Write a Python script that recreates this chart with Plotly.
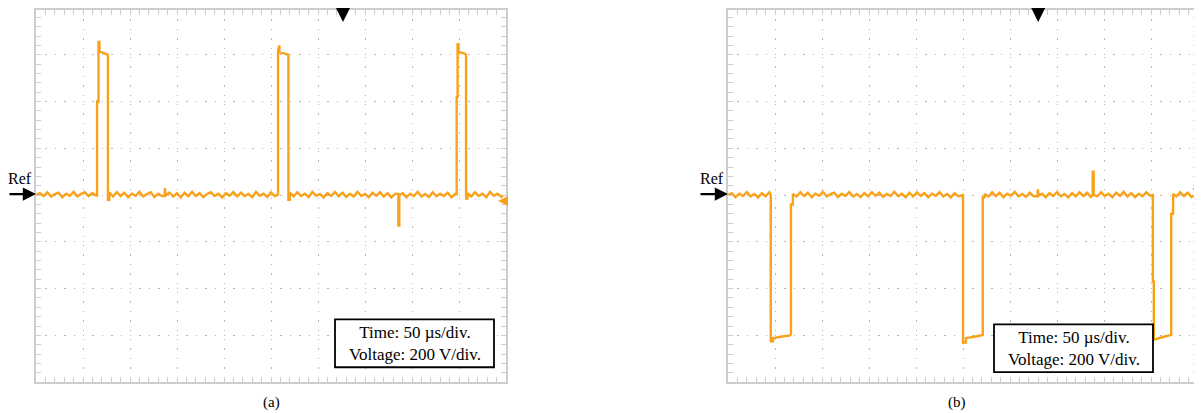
import plotly.graph_objects as go

# page body has an 8px margin: the figure is sized to fit the 1202x413 window
OFF = 8
W, H = 1202 - OFF, 413 - OFF

# ---------------- data (time in µs, voltage in V) ----------------
t_a = [0, 4, 8, 12, 16, 20, 24, 28, 32, 36, 40, 44, 48, 52, 56, 60, 64,
       65, 65, 66.5, 66.5, 67.5, 67.5, 72, 76, 76.5, 76.5, 78, 78,
       82, 86, 90, 94, 98, 102, 106, 110, 114, 118, 122, 126, 130, 134, 137, 137, 138,
       142, 146, 150, 154, 158, 162, 166, 170, 174, 178, 182, 186, 190, 194, 198,
       202, 206, 210, 214, 218, 222, 226, 230, 234, 238, 242, 246, 250, 254, 257,
       257.5, 257.5, 259, 259, 266, 268, 268.5, 268.5, 270, 270,
       274, 278, 282, 286, 290, 294, 298, 302, 306, 310, 314, 318, 322, 326, 330,
       334, 338, 342, 346, 350, 354, 358, 362, 366, 370, 374, 378, 382, 385.5, 385.5, 386.5, 386.5,
       390, 394, 398, 402, 406, 410, 414, 418, 422, 426, 430, 434, 438, 442, 446, 447.5,
       447.5, 448.5, 448.5, 449.5, 449.5, 456, 457.5, 457.5, 459, 459,
       463, 467, 471, 475, 479, 483, 487, 491, 495, 497]
v_a = [0, 8, -4, 12, -6, 4, 10, -9, 6, -3, 14, -6, 5, 12, -4, 9, -2,
       -2, 400, 400, 655, 655, 615, 608, 600, 600, -20, -20, 12,
       -6, 13, -4, 10, -9, 6, -3, 14, -6, 4, 12, -8, 6, -4, -4, 30, -2,
       11, -6, 8, -10, 10, -5, 14, -4, 8, -9, 5, 12, -4, 6, -10,
       8, -3, 13, -6, 10, -4, 5, -9, 14, -3, 6, -8, 12, -4, 2,
       2, 620, 640, 612, 605, 600, 600, -20, -20, 10,
       -5, 12, -4, 6, -9, 14, -3, 5, -10, 8, -4, 13, -5, 10, -8,
       6, -6, 14, -4, 5, -9, 10, -3, 12, -6, 8, -10, 5, 5, -130, -130, 0,
       8, -9, 6, -4, 14, -6, 5, -8, 12, -5, 6, -4, 10, -9, 5, 0,
       420, 420, 645, 645, 612, 605, 600, -15, -15, 8,
       -6, 12, -4, 6, -9, 14, -3, 6, -8, 0]

t_b = [0, 4, 8, 12, 16, 20, 24, 28, 32, 36, 40, 44, 45.5,
       45.5, 48, 48, 56, 66, 67, 67, 69, 69,
       73, 77, 81, 85, 89, 93, 97, 101, 105, 109, 113, 117, 121, 125, 129, 133, 137,
       141, 145, 149, 153, 157, 161, 165, 169, 173, 177, 181, 185, 189, 193, 197,
       201, 205, 209, 213, 217, 221, 225, 229, 233, 237, 241, 245, 250,
       250, 253, 253, 262, 270, 271, 271, 273, 273,
       277, 281, 285, 289, 293, 297, 301, 305, 309, 313, 317, 321, 325, 329.5, 329.5, 330.5,
       334, 338, 342, 346, 350, 354, 358, 362, 366, 370, 374, 378, 382, 386, 388, 388, 389, 389,
       393, 397, 401, 405, 409, 413, 417, 421, 425, 429, 433, 437, 441, 445, 449, 452,
       452, 453, 453, 462, 470, 471.5, 471.5, 473.5, 473.5,
       477, 481, 485, 489, 493, 497]
v_b = [0, 8, -9, 6, -4, 13, -6, 5, -10, 8, -5, 12, 0,
       -625, -625, -612, -606, -600, -595, -40, -40, 5,
       -6, 12, -4, 10, -9, 6, -3, 14, -6, 4, 10, -8, 6, -4, 13, -6, 5,
       -9, 8, -5, 12, -3, 10, -8, 5, -4, 14, -5, 6, -9, 10, -6,
       12, -4, 8, -9, 6, -3, 13, -6, 5, -10, 8, -5, 0,
       -632, -630, -612, -606, -600, -598, -10, -10, 5,
       -6, 12, -4, 10, -9, 6, -3, 14, -6, 5, -8, 10, -5, -5, 25, -2,
       6, -9, 8, -4, 13, -6, 5, -10, 8, -5, 12, -4, 10, -8, 0, 100, 100, 0,
       -5, 12, -4, 6, -9, 10, -3, 14, -6, 8, -9, 6, -5, 12, -3, 0,
       -370, -370, -618, -608, -600, -598, -80, -80, 5,
       -6, 12, -4, 10, -8, 0]

time_div_label = "Time: 50 µs/div."
volt_div_label = "Voltage: 200 V/div."
captions = ["(a)", "(b)"]
trigger_time = [326.6, 330.0]


# ---------------- layout helpers (reference pixel -> paper) ----------------
def fx(p):
    return (p - OFF) / W


def fy(p):
    return 1 - (p - OFF) / H


TRACE = "#F8A21C"
FRAME = "#cdcdcd"
GRID = "#b4b4b4"
SERIF = "Liberation Serif, Times New Roman, serif"

panels = [dict(x0=36, x1=506), dict(x0=728, x1=1198)]
# frame top clipped to the page margin; y range keeps 47 px per 200 V division
y_top_px, y_bot_px, y_zero_px, px_per_div = 8, 382, 194, 47.0
y_lo = -(y_bot_px - y_zero_px) / px_per_div * 200
y_hi = (y_zero_px - y_top_px) / px_per_div * 200

fig = go.Figure()
fig.add_trace(go.Scatter(x=t_a, y=v_a, mode="lines", line=dict(color=TRACE, width=2.4),
                         xaxis="x", yaxis="y", showlegend=False, hoverinfo="skip"))
fig.add_trace(go.Scatter(x=t_b, y=v_b, mode="lines", line=dict(color=TRACE, width=2.4),
                         xaxis="x2", yaxis="y2", showlegend=False, hoverinfo="skip"))

common = dict(showticklabels=False, showline=True, linecolor=FRAME, linewidth=2, mirror="allticks",
              ticks="inside", ticklen=5, tickcolor=FRAME, tickwidth=1.2,
              showgrid=True, gridcolor=GRID, gridwidth=1.4, griddash="1.4px,8px",
              zeroline=False, fixedrange=True,
              minor=dict(ticks="inside", ticklen=5, tickcolor=FRAME, tickwidth=1.2, showgrid=False))

layout = dict(width=W, height=H, margin=dict(l=0, r=0, t=0, b=0),
              paper_bgcolor="white", plot_bgcolor="white", showlegend=False)
for i, p in enumerate(panels):
    sx = "" if i == 0 else str(i + 1)
    layout["xaxis" + sx] = dict(common, domain=[fx(p["x0"]), fx(p["x1"])], range=[0, 500],
                                tick0=0, dtick=50, minor=dict(common["minor"], dtick=10),
                                anchor="y" + sx)
    layout["yaxis" + sx] = dict(common, domain=[fy(y_bot_px), fy(y_top_px)], range=[y_lo, y_hi],
                                tick0=0, dtick=200, minor=dict(common["minor"], dtick=40),
                                anchor="x" + sx)
fig.update_layout(**layout)

annotations = []
shapes = []
for i, p in enumerate(panels):
    sx = "" if i == 0 else str(i + 1)
    x0 = p["x0"]
    # Ref label + arrow
    annotations.append(dict(xref="paper", yref="paper", x=fx(x0 - 16), y=fy(177), text="Ref",
                            showarrow=False, font=dict(family=SERIF, size=16, color="black"),
                            xanchor="center", yanchor="middle"))
    annotations.append(dict(xref="paper", yref="paper", x=fx(x0), y=fy(193), text="",
                            showarrow=True, ax=-29, ay=0, arrowhead=2, arrowsize=1.1,
                            arrowwidth=2.4, arrowcolor="black"))
    # trigger position arrow at top
    annotations.append(dict(xref="x" + sx, yref="paper", x=trigger_time[i], y=fy(20), text="",
                            showarrow=True, ax=0, ay=-14, arrowhead=2, arrowsize=1.4,
                            arrowwidth=2.0, arrowcolor="black"))
    # caption
    annotations.append(dict(xref="paper", yref="paper", x=fx((p["x0"] + p["x1"]) / 2 + (0 if i == 0 else -6)),
                            y=fy(402), text=captions[i], showarrow=False,
                            font=dict(family=SERIF, size=15, color="black"),
                            xanchor="center", yanchor="middle"))

# trigger level arrows (orange, right side)
annotations.append(dict(xref="paper", yref="paper", x=fx(498), y=fy(200), text="",
                        showarrow=True, ax=9, ay=0, arrowhead=2, arrowsize=1.0,
                        arrowwidth=2, arrowcolor=TRACE))
annotations.append(dict(xref="paper", yref="paper", x=fx(1192), y=fy(188), text="",
                        showarrow=True, ax=9, ay=0, arrowhead=2, arrowsize=1.0,
                        arrowwidth=2, arrowcolor=TRACE))

# info boxes
boxes = [(335, 319, 494, 367), (994, 324, 1153, 372)]
for (bx0, by0, bx1, by1) in boxes:
    shapes.append(dict(type="rect", xref="paper", yref="paper", x0=fx(bx0), x1=fx(bx1),
                       y0=fy(by1), y1=fy(by0), line=dict(color="black", width=1.8),
                       fillcolor="white", layer="above"))
    annotations.append(dict(xref="paper", yref="paper", x=fx((bx0 + bx1) / 2), y=fy((by0 + by1) / 2),
                            text=time_div_label + "<br>" + volt_div_label, showarrow=False,
                            font=dict(family=SERIF, size=17, color="black"),
                            xanchor="center", yanchor="middle", align="center"))

fig.update_layout(annotations=annotations, shapes=shapes)
fig.write_html("out.html")
